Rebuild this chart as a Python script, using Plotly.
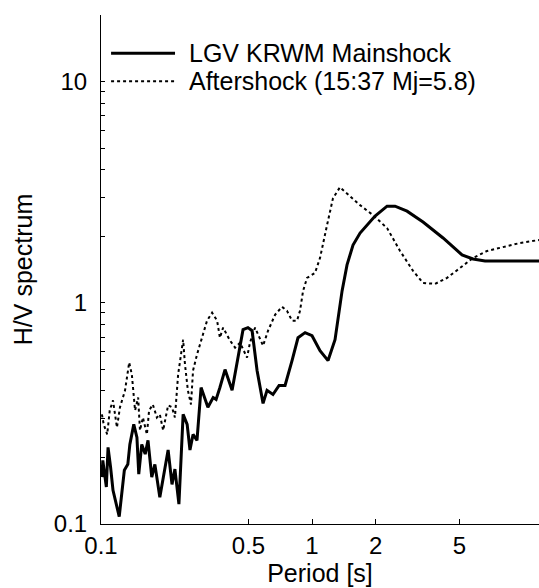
import plotly.graph_objects as go

# Mainshock H/V spectrum (period [s], H/V)
main_period = [0.101, 0.102, 0.106, 0.108, 0.111, 0.114, 0.122, 0.129, 0.134, 0.137,
               0.143, 0.148, 0.151, 0.156, 0.162, 0.167, 0.174, 0.180, 0.190, 0.197,
               0.208, 0.217, 0.224, 0.234, 0.245, 0.256, 0.264, 0.273, 0.285, 0.298,
               0.321, 0.340, 0.351, 0.366, 0.387, 0.418, 0.446, 0.471, 0.497, 0.520,
               0.549, 0.586, 0.612, 0.653, 0.698, 0.745, 0.804, 0.858, 0.927, 1.0,
               1.091, 1.191, 1.285, 1.357, 1.388, 1.465, 1.564, 1.689, 1.989, 2.267,
               2.474, 2.820, 3.357, 4.177, 5.139, 5.794, 6.605, 7.78, 9.68, 11.91]
main_hv = [0.163, 0.194, 0.147, 0.222, 0.181, 0.142, 0.108, 0.175, 0.186, 0.229,
           0.282, 0.246, 0.168, 0.229, 0.207, 0.239, 0.163, 0.186, 0.132, 0.163,
           0.216, 0.151, 0.177, 0.123, 0.313, 0.282, 0.216, 0.254, 0.239, 0.414,
           0.337, 0.373, 0.366, 0.414, 0.499, 0.402, 0.565, 0.756, 0.772, 0.748,
           0.494, 0.351, 0.402, 0.385, 0.423, 0.423, 0.548, 0.695, 0.733, 0.710,
           0.608, 0.548, 0.681, 0.950, 1.132, 1.483, 1.825, 2.067, 2.465, 2.734,
           2.734, 2.596, 2.317, 1.963, 1.645, 1.578, 1.546, 1.546, 1.546, 1.546]

# Aftershock (15:37 Mj=5.8) H/V spectrum
after_period = [0.101, 0.103, 0.107, 0.110, 0.114, 0.119, 0.123, 0.130, 0.136, 0.140,
                0.145, 0.150, 0.153, 0.158, 0.165, 0.169, 0.176, 0.184, 0.190, 0.197,
                0.208, 0.217, 0.224, 0.232, 0.245, 0.250, 0.258, 0.267, 0.273, 0.285,
                0.301, 0.318, 0.336, 0.355, 0.366, 0.379, 0.409, 0.432, 0.456, 0.492,
                0.508, 0.537, 0.586, 0.619, 0.668, 0.721, 0.761, 0.804, 0.849, 0.877,
                0.907, 0.947, 1.033, 1.091, 1.178, 1.257, 1.357, 1.465, 1.689, 1.946,
                2.267, 2.613, 3.011, 3.357, 3.827, 4.364, 5.028, 5.794, 6.75, 8.04,
                9.68, 11.91]
after_hv = [0.313, 0.282, 0.254, 0.326, 0.362, 0.273, 0.337, 0.402, 0.537, 0.474,
            0.326, 0.373, 0.265, 0.303, 0.254, 0.326, 0.347, 0.303, 0.313, 0.265,
            0.344, 0.337, 0.303, 0.474, 0.681, 0.526, 0.402, 0.347, 0.494, 0.583,
            0.695, 0.830, 0.902, 0.830, 0.695, 0.772, 0.674, 0.627, 0.660, 0.565,
            0.660, 0.772, 0.640, 0.748, 0.883, 0.959, 0.920, 0.830, 0.830, 0.920,
            1.132, 1.296, 1.365, 1.595, 2.245, 2.971, 3.331, 3.130, 2.763, 2.490,
            2.177, 1.715, 1.394, 1.230, 1.218, 1.296, 1.438, 1.595, 1.715, 1.788,
            1.864, 1.922]

x_tickvals = [0.1, 0.5, 1, 2, 5]
x_ticktext = ["0.1", "0.5", "1", "2", "5"]
y_tickvals = [0.1, 0.2, 0.3, 0.4, 0.5, 0.6, 0.7, 0.8, 0.9,
              1, 2, 3, 4, 5, 6, 7, 8, 9, 10, 20]
y_ticktext = ["0.1", "", "", "", "", "", "", "", "",
              "1", "", "", "", "", "", "", "", "", "10", ""]

legend_names = ["LGV KRWM Mainshock", "Aftershock (15:37 Mj=5.8)"]

FONT = "Liberation Sans, Arial, sans-serif"

fig = go.Figure()
fig.add_trace(go.Scatter(x=main_period, y=main_hv, mode="lines",
                         name=legend_names[0],
                         line=dict(color="black", width=3)))
fig.add_trace(go.Scatter(x=after_period, y=after_hv, mode="lines",
                         name=legend_names[1],
                         line=dict(color="black", width=2, dash="dot")))

# manual legend (long line samples as in the original)
leg_y = [0.925, 0.870]
leg_styles = [dict(color="black", width=3), dict(color="black", width=2, dash="dot")]
for yy, st, nm in zip(leg_y, leg_styles, legend_names):
    fig.add_shape(type="line", xref="paper", yref="paper",
                  x0=0.023, x1=0.169, y0=yy, y1=yy, line=st)
    fig.add_annotation(xref="paper", yref="paper", x=0.197, y=yy,
                       text=nm, showarrow=False, xanchor="left", yanchor="middle",
                       font=dict(family=FONT, size=25, color="black"))

fig.update_layout(
    width=539, height=588,
    margin=dict(l=101, r=0, t=15, b=64),
    paper_bgcolor="white", plot_bgcolor="white",
    showlegend=False,
    font=dict(family=FONT, size=24, color="black"),
)
fig.update_xaxes(type="log", range=[-1, 1.0755],
                 tickvals=x_tickvals, ticktext=x_ticktext,
                 ticks="inside", ticklen=5, tickcolor="black",
                 tickfont=dict(family=FONT, size=24),
                 showline=True, linecolor="black", linewidth=1,
                 showgrid=False, zeroline=False, mirror=False,
                 title=dict(text="Period [s]", standoff=0,
                            font=dict(family=FONT, size=25)))
fig.update_yaxes(type="log", range=[-1, 1.301],
                 tickvals=y_tickvals, ticktext=y_ticktext,
                 ticks="inside", ticklen=4, tickcolor="black",
                 tickfont=dict(family=FONT, size=24),
                 ticklabelstandoff=8,
                 showline=True, linecolor="black", linewidth=1,
                 showgrid=False, zeroline=False, mirror=False,
                 title=dict(text="H/V spectrum", standoff=14,
                            font=dict(family=FONT, size=25)))

fig.write_html("out.html")
